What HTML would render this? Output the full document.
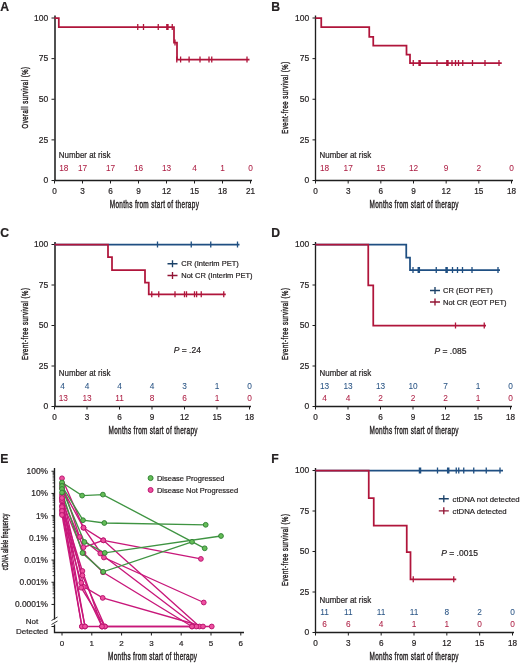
<!DOCTYPE html>
<html><head><meta charset="utf-8"><style>
html,body{margin:0;padding:0;background:#fff;}
svg{display:block;font-family:"Liberation Sans",sans-serif;filter:blur(0.3px);}
</style></head><body>
<svg width="520" height="663" viewBox="0 0 520 663">
<rect width="520" height="663" fill="#fff"/>
<text x="0.3" y="10.6" font-size="12.2" text-anchor="start" fill="#231f20" stroke="#231f20" stroke-width="0.2" font-weight="bold">A</text>
<path d="M55.0 15.5V180.5" fill="none" stroke="#484848" stroke-width="1.9"/>
<path d="M54.5 180.5H252" fill="none" stroke="#1e1e1e" stroke-width="1.35"/>
<line x1="51.5" y1="18.0" x2="54.5" y2="18.0" stroke="#1e1e1e" stroke-width="1"/>
<text x="48.2" y="20.8" font-size="8.5" text-anchor="end" fill="#231f20" stroke="#231f20" stroke-width="0.2" >100</text>
<line x1="51.5" y1="58.625" x2="54.5" y2="58.625" stroke="#1e1e1e" stroke-width="1"/>
<text x="48.2" y="61.425" font-size="8.5" text-anchor="end" fill="#231f20" stroke="#231f20" stroke-width="0.2" >75</text>
<line x1="51.5" y1="99.25" x2="54.5" y2="99.25" stroke="#1e1e1e" stroke-width="1"/>
<text x="48.2" y="102.05" font-size="8.5" text-anchor="end" fill="#231f20" stroke="#231f20" stroke-width="0.2" >50</text>
<line x1="51.5" y1="139.875" x2="54.5" y2="139.875" stroke="#1e1e1e" stroke-width="1"/>
<text x="48.2" y="142.675" font-size="8.5" text-anchor="end" fill="#231f20" stroke="#231f20" stroke-width="0.2" >25</text>
<line x1="51.5" y1="180.5" x2="54.5" y2="180.5" stroke="#1e1e1e" stroke-width="1"/>
<text x="48.2" y="183.3" font-size="8.5" text-anchor="end" fill="#231f20" stroke="#231f20" stroke-width="0.2" >0</text>
<line x1="54.5" y1="180.5" x2="54.5" y2="183.5" stroke="#1e1e1e" stroke-width="1"/>
<text x="54.5" y="193.6" font-size="8.2" text-anchor="middle" fill="#231f20" stroke="#231f20" stroke-width="0.2" >0</text>
<line x1="82.5" y1="180.5" x2="82.5" y2="183.5" stroke="#1e1e1e" stroke-width="1"/>
<text x="82.5" y="193.6" font-size="8.2" text-anchor="middle" fill="#231f20" stroke="#231f20" stroke-width="0.2" >3</text>
<line x1="110.5" y1="180.5" x2="110.5" y2="183.5" stroke="#1e1e1e" stroke-width="1"/>
<text x="110.5" y="193.6" font-size="8.2" text-anchor="middle" fill="#231f20" stroke="#231f20" stroke-width="0.2" >6</text>
<line x1="138.5" y1="180.5" x2="138.5" y2="183.5" stroke="#1e1e1e" stroke-width="1"/>
<text x="138.5" y="193.6" font-size="8.2" text-anchor="middle" fill="#231f20" stroke="#231f20" stroke-width="0.2" >9</text>
<line x1="166.5" y1="180.5" x2="166.5" y2="183.5" stroke="#1e1e1e" stroke-width="1"/>
<text x="166.5" y="193.6" font-size="8.2" text-anchor="middle" fill="#231f20" stroke="#231f20" stroke-width="0.2" >12</text>
<line x1="194.5" y1="180.5" x2="194.5" y2="183.5" stroke="#1e1e1e" stroke-width="1"/>
<text x="194.5" y="193.6" font-size="8.2" text-anchor="middle" fill="#231f20" stroke="#231f20" stroke-width="0.2" >15</text>
<line x1="222.5" y1="180.5" x2="222.5" y2="183.5" stroke="#1e1e1e" stroke-width="1"/>
<text x="222.5" y="193.6" font-size="8.2" text-anchor="middle" fill="#231f20" stroke="#231f20" stroke-width="0.2" >18</text>
<line x1="250.5" y1="180.5" x2="250.5" y2="183.5" stroke="#1e1e1e" stroke-width="1"/>
<text x="250.5" y="193.6" font-size="8.2" text-anchor="middle" fill="#231f20" stroke="#231f20" stroke-width="0.2" >21</text>
<text transform="translate(154.3,207.8) scale(0.63,1)" x="0.259" y="0" font-size="10.2" text-anchor="middle" fill="#231f20" letter-spacing="0.518" stroke="#231f20" stroke-width="0.42">Months from start of therapy</text>
<text transform="translate(27.6,97.75) rotate(-90) scale(0.63,1)" x="0.402" y="0" font-size="9.5" text-anchor="middle" fill="#231f20" letter-spacing="0.803" stroke="#231f20" stroke-width="0.42">Overall survival (%)</text>
<path d="M54.5 18H58.8V27.1H174V42.5H177V59.5H249.5" fill="none" stroke="#b0153b" stroke-width="1.75" stroke-linejoin="miter"/>
<path d="M137.75 24.1V30.1M143.5 24.1V30.1M158.25 24.1V30.1M166.8 24.1V30.1M168 24.1V30.1M172.25 24.1V30.1M175 39.5V45.5M176.8 56.5V62.5M180.6 56.5V62.5M189.1 56.5V62.5M200 56.5V62.5M209 56.5V62.5M211.75 56.5V62.5M247 56.5V62.5" fill="none" stroke="#b0153b" stroke-width="1.3"/>
<text x="58.75" y="158" font-size="8.4" text-anchor="start" fill="#231f20" stroke="#231f20" stroke-width="0.2" textLength="51.6" lengthAdjust="spacingAndGlyphs">Number at risk</text>
<text x="63.75" y="170.5" font-size="8.3" text-anchor="middle" fill="#ad1f44" stroke="#ad1f44" stroke-width="0.05" >18</text>
<text x="82.5" y="170.5" font-size="8.3" text-anchor="middle" fill="#ad1f44" stroke="#ad1f44" stroke-width="0.05" >17</text>
<text x="110.5" y="170.5" font-size="8.3" text-anchor="middle" fill="#ad1f44" stroke="#ad1f44" stroke-width="0.05" >17</text>
<text x="138.5" y="170.5" font-size="8.3" text-anchor="middle" fill="#ad1f44" stroke="#ad1f44" stroke-width="0.05" >16</text>
<text x="166.5" y="170.5" font-size="8.3" text-anchor="middle" fill="#ad1f44" stroke="#ad1f44" stroke-width="0.05" >13</text>
<text x="194.5" y="170.5" font-size="8.3" text-anchor="middle" fill="#ad1f44" stroke="#ad1f44" stroke-width="0.05" >4</text>
<text x="222.5" y="170.5" font-size="8.3" text-anchor="middle" fill="#ad1f44" stroke="#ad1f44" stroke-width="0.05" >1</text>
<text x="250.5" y="170.5" font-size="8.3" text-anchor="middle" fill="#ad1f44" stroke="#ad1f44" stroke-width="0.05" >0</text>
<text x="271.3" y="10.6" font-size="12.2" text-anchor="start" fill="#231f20" stroke="#231f20" stroke-width="0.2" font-weight="bold">B</text>
<path d="M315.5 15.5V180.5H513" fill="none" stroke="#1e1e1e" stroke-width="1.35"/>
<line x1="312.5" y1="18.0" x2="315.5" y2="18.0" stroke="#1e1e1e" stroke-width="1"/>
<text x="309.2" y="20.8" font-size="8.5" text-anchor="end" fill="#231f20" stroke="#231f20" stroke-width="0.2" >100</text>
<line x1="312.5" y1="58.625" x2="315.5" y2="58.625" stroke="#1e1e1e" stroke-width="1"/>
<text x="309.2" y="61.425" font-size="8.5" text-anchor="end" fill="#231f20" stroke="#231f20" stroke-width="0.2" >75</text>
<line x1="312.5" y1="99.25" x2="315.5" y2="99.25" stroke="#1e1e1e" stroke-width="1"/>
<text x="309.2" y="102.05" font-size="8.5" text-anchor="end" fill="#231f20" stroke="#231f20" stroke-width="0.2" >50</text>
<line x1="312.5" y1="139.875" x2="315.5" y2="139.875" stroke="#1e1e1e" stroke-width="1"/>
<text x="309.2" y="142.675" font-size="8.5" text-anchor="end" fill="#231f20" stroke="#231f20" stroke-width="0.2" >25</text>
<line x1="312.5" y1="180.5" x2="315.5" y2="180.5" stroke="#1e1e1e" stroke-width="1"/>
<text x="309.2" y="183.3" font-size="8.5" text-anchor="end" fill="#231f20" stroke="#231f20" stroke-width="0.2" >0</text>
<line x1="315.5" y1="180.5" x2="315.5" y2="183.5" stroke="#1e1e1e" stroke-width="1"/>
<text x="315.5" y="193.6" font-size="8.2" text-anchor="middle" fill="#231f20" stroke="#231f20" stroke-width="0.2" >0</text>
<line x1="348.1666666666667" y1="180.5" x2="348.1666666666667" y2="183.5" stroke="#1e1e1e" stroke-width="1"/>
<text x="348.1666666666667" y="193.6" font-size="8.2" text-anchor="middle" fill="#231f20" stroke="#231f20" stroke-width="0.2" >3</text>
<line x1="380.8333333333333" y1="180.5" x2="380.8333333333333" y2="183.5" stroke="#1e1e1e" stroke-width="1"/>
<text x="380.8333333333333" y="193.6" font-size="8.2" text-anchor="middle" fill="#231f20" stroke="#231f20" stroke-width="0.2" >6</text>
<line x1="413.5" y1="180.5" x2="413.5" y2="183.5" stroke="#1e1e1e" stroke-width="1"/>
<text x="413.5" y="193.6" font-size="8.2" text-anchor="middle" fill="#231f20" stroke="#231f20" stroke-width="0.2" >9</text>
<line x1="446.16666666666663" y1="180.5" x2="446.16666666666663" y2="183.5" stroke="#1e1e1e" stroke-width="1"/>
<text x="446.16666666666663" y="193.6" font-size="8.2" text-anchor="middle" fill="#231f20" stroke="#231f20" stroke-width="0.2" >12</text>
<line x1="478.8333333333333" y1="180.5" x2="478.8333333333333" y2="183.5" stroke="#1e1e1e" stroke-width="1"/>
<text x="478.8333333333333" y="193.6" font-size="8.2" text-anchor="middle" fill="#231f20" stroke="#231f20" stroke-width="0.2" >15</text>
<line x1="511.5" y1="180.5" x2="511.5" y2="183.5" stroke="#1e1e1e" stroke-width="1"/>
<text x="511.5" y="193.6" font-size="8.2" text-anchor="middle" fill="#231f20" stroke="#231f20" stroke-width="0.2" >18</text>
<text transform="translate(414,207.8) scale(0.63,1)" x="0.259" y="0" font-size="10.2" text-anchor="middle" fill="#231f20" letter-spacing="0.518" stroke="#231f20" stroke-width="0.42">Months from start of therapy</text>
<text transform="translate(288.4,97.75) rotate(-90) scale(0.63,1)" x="0.413" y="0" font-size="9.5" text-anchor="middle" fill="#231f20" letter-spacing="0.826" stroke="#231f20" stroke-width="0.42">Event-free survival (%)</text>
<path d="M315.5 18H321.25V27H369.25V36.75H373.25V45.5H406.5V54.5H410V63H501.75" fill="none" stroke="#b0153b" stroke-width="1.75" stroke-linejoin="miter"/>
<path d="M413.25 60V66M419 60V66M420.2 60V66M437 60V66M446.8 60V66M448 60V66M452 60V66M455.5 60V66M458.5 60V66M462.75 60V66M472.5 60V66M485 60V66M499 60V66" fill="none" stroke="#b0153b" stroke-width="1.3"/>
<text x="319.5" y="158" font-size="8.4" text-anchor="start" fill="#231f20" stroke="#231f20" stroke-width="0.2" textLength="51.6" lengthAdjust="spacingAndGlyphs">Number at risk</text>
<text x="324.5" y="170.5" font-size="8.3" text-anchor="middle" fill="#ad1f44" stroke="#ad1f44" stroke-width="0.05" >18</text>
<text x="348.1666666666667" y="170.5" font-size="8.3" text-anchor="middle" fill="#ad1f44" stroke="#ad1f44" stroke-width="0.05" >17</text>
<text x="380.8333333333333" y="170.5" font-size="8.3" text-anchor="middle" fill="#ad1f44" stroke="#ad1f44" stroke-width="0.05" >15</text>
<text x="413.5" y="170.5" font-size="8.3" text-anchor="middle" fill="#ad1f44" stroke="#ad1f44" stroke-width="0.05" >12</text>
<text x="446.16666666666663" y="170.5" font-size="8.3" text-anchor="middle" fill="#ad1f44" stroke="#ad1f44" stroke-width="0.05" >9</text>
<text x="478.8333333333333" y="170.5" font-size="8.3" text-anchor="middle" fill="#ad1f44" stroke="#ad1f44" stroke-width="0.05" >2</text>
<text x="511.5" y="170.5" font-size="8.3" text-anchor="middle" fill="#ad1f44" stroke="#ad1f44" stroke-width="0.05" >0</text>
<text x="0.3" y="236.9" font-size="12.2" text-anchor="start" fill="#231f20" stroke="#231f20" stroke-width="0.2" font-weight="bold">C</text>
<path d="M55.0 242.0V406.5" fill="none" stroke="#484848" stroke-width="1.9"/>
<path d="M54.5 406.5H251" fill="none" stroke="#1e1e1e" stroke-width="1.35"/>
<line x1="51.5" y1="244.5" x2="54.5" y2="244.5" stroke="#1e1e1e" stroke-width="1"/>
<text x="48.2" y="247.3" font-size="8.5" text-anchor="end" fill="#231f20" stroke="#231f20" stroke-width="0.2" >100</text>
<line x1="51.5" y1="285.0" x2="54.5" y2="285.0" stroke="#1e1e1e" stroke-width="1"/>
<text x="48.2" y="287.8" font-size="8.5" text-anchor="end" fill="#231f20" stroke="#231f20" stroke-width="0.2" >75</text>
<line x1="51.5" y1="325.5" x2="54.5" y2="325.5" stroke="#1e1e1e" stroke-width="1"/>
<text x="48.2" y="328.3" font-size="8.5" text-anchor="end" fill="#231f20" stroke="#231f20" stroke-width="0.2" >50</text>
<line x1="51.5" y1="366.0" x2="54.5" y2="366.0" stroke="#1e1e1e" stroke-width="1"/>
<text x="48.2" y="368.8" font-size="8.5" text-anchor="end" fill="#231f20" stroke="#231f20" stroke-width="0.2" >25</text>
<line x1="51.5" y1="406.5" x2="54.5" y2="406.5" stroke="#1e1e1e" stroke-width="1"/>
<text x="48.2" y="409.3" font-size="8.5" text-anchor="end" fill="#231f20" stroke="#231f20" stroke-width="0.2" >0</text>
<line x1="54.5" y1="406.5" x2="54.5" y2="409.5" stroke="#1e1e1e" stroke-width="1"/>
<text x="54.5" y="420" font-size="8.2" text-anchor="middle" fill="#231f20" stroke="#231f20" stroke-width="0.2" >0</text>
<line x1="87.0" y1="406.5" x2="87.0" y2="409.5" stroke="#1e1e1e" stroke-width="1"/>
<text x="87.0" y="420" font-size="8.2" text-anchor="middle" fill="#231f20" stroke="#231f20" stroke-width="0.2" >3</text>
<line x1="119.5" y1="406.5" x2="119.5" y2="409.5" stroke="#1e1e1e" stroke-width="1"/>
<text x="119.5" y="420" font-size="8.2" text-anchor="middle" fill="#231f20" stroke="#231f20" stroke-width="0.2" >6</text>
<line x1="152.0" y1="406.5" x2="152.0" y2="409.5" stroke="#1e1e1e" stroke-width="1"/>
<text x="152.0" y="420" font-size="8.2" text-anchor="middle" fill="#231f20" stroke="#231f20" stroke-width="0.2" >9</text>
<line x1="184.5" y1="406.5" x2="184.5" y2="409.5" stroke="#1e1e1e" stroke-width="1"/>
<text x="184.5" y="420" font-size="8.2" text-anchor="middle" fill="#231f20" stroke="#231f20" stroke-width="0.2" >12</text>
<line x1="217.0" y1="406.5" x2="217.0" y2="409.5" stroke="#1e1e1e" stroke-width="1"/>
<text x="217.0" y="420" font-size="8.2" text-anchor="middle" fill="#231f20" stroke="#231f20" stroke-width="0.2" >15</text>
<line x1="249.5" y1="406.5" x2="249.5" y2="409.5" stroke="#1e1e1e" stroke-width="1"/>
<text x="249.5" y="420" font-size="8.2" text-anchor="middle" fill="#231f20" stroke="#231f20" stroke-width="0.2" >18</text>
<text transform="translate(153,434.2) scale(0.63,1)" x="0.259" y="0" font-size="10.2" text-anchor="middle" fill="#231f20" letter-spacing="0.518" stroke="#231f20" stroke-width="0.42">Months from start of therapy</text>
<text transform="translate(27.6,324.0) rotate(-90) scale(0.63,1)" x="0.413" y="0" font-size="9.5" text-anchor="middle" fill="#231f20" letter-spacing="0.826" stroke="#231f20" stroke-width="0.42">Event-free survival (%)</text>
<path d="M54.5 244.5H239.5" fill="none" stroke="#1f4f82" stroke-width="1.75" stroke-linejoin="miter"/>
<path d="M157.5 241.5V247.5M191.25 241.5V247.5M210.75 241.5V247.5M237.5 241.5V247.5" fill="none" stroke="#1f4f82" stroke-width="1.3"/>
<path d="M54.5 244.5H108V257H112V270H145V282.5H148.75V294.25H225.75" fill="none" stroke="#b0153b" stroke-width="1.75" stroke-linejoin="miter"/>
<path d="M151.75 291.25V297.25M158.75 291.25V297.25M175 291.25V297.25M184.5 291.25V297.25M186.5 291.25V297.25M194.5 291.25V297.25M196.6 291.25V297.25M201.25 291.25V297.25M223.75 291.25V297.25" fill="none" stroke="#b0153b" stroke-width="1.3"/>
<path d="M167.5 263.75H177.5M172.5 260.25V267.25" stroke="#1b4168" stroke-width="1.35"/>
<text x="181.25" y="266.45" font-size="7.5" text-anchor="start" fill="#231f20" stroke="#231f20" stroke-width="0.2" >CR (Interim PET)</text>
<path d="M167.5 275.5H177.5M172.5 272.0V279.0" stroke="#921434" stroke-width="1.35"/>
<text x="181.25" y="278.2" font-size="7.5" text-anchor="start" fill="#231f20" stroke="#231f20" stroke-width="0.2" >Not CR (Interim PET)</text>
<text x="173.75" y="353" font-size="8.5" fill="#231f20" stroke="#231f20" stroke-width="0.2"><tspan font-style="italic">P</tspan> = .24</text>
<text x="58.75" y="376.25" font-size="8.4" text-anchor="start" fill="#231f20" stroke="#231f20" stroke-width="0.2" textLength="51.6" lengthAdjust="spacingAndGlyphs">Number at risk</text>
<text x="62.5" y="388.75" font-size="8.3" text-anchor="middle" fill="#2a5585" stroke="#2a5585" stroke-width="0.05" >4</text>
<text x="87.0" y="388.75" font-size="8.3" text-anchor="middle" fill="#2a5585" stroke="#2a5585" stroke-width="0.05" >4</text>
<text x="119.5" y="388.75" font-size="8.3" text-anchor="middle" fill="#2a5585" stroke="#2a5585" stroke-width="0.05" >4</text>
<text x="152.0" y="388.75" font-size="8.3" text-anchor="middle" fill="#2a5585" stroke="#2a5585" stroke-width="0.05" >4</text>
<text x="184.5" y="388.75" font-size="8.3" text-anchor="middle" fill="#2a5585" stroke="#2a5585" stroke-width="0.05" >3</text>
<text x="217.0" y="388.75" font-size="8.3" text-anchor="middle" fill="#2a5585" stroke="#2a5585" stroke-width="0.05" >1</text>
<text x="249.5" y="388.75" font-size="8.3" text-anchor="middle" fill="#2a5585" stroke="#2a5585" stroke-width="0.05" >0</text>
<text x="63.25" y="400.75" font-size="8.3" text-anchor="middle" fill="#ad1f44" stroke="#ad1f44" stroke-width="0.05" >13</text>
<text x="87.0" y="400.75" font-size="8.3" text-anchor="middle" fill="#ad1f44" stroke="#ad1f44" stroke-width="0.05" >13</text>
<text x="119.5" y="400.75" font-size="8.3" text-anchor="middle" fill="#ad1f44" stroke="#ad1f44" stroke-width="0.05" >11</text>
<text x="152.0" y="400.75" font-size="8.3" text-anchor="middle" fill="#ad1f44" stroke="#ad1f44" stroke-width="0.05" >8</text>
<text x="184.5" y="400.75" font-size="8.3" text-anchor="middle" fill="#ad1f44" stroke="#ad1f44" stroke-width="0.05" >6</text>
<text x="217.0" y="400.75" font-size="8.3" text-anchor="middle" fill="#ad1f44" stroke="#ad1f44" stroke-width="0.05" >1</text>
<text x="249.5" y="400.75" font-size="8.3" text-anchor="middle" fill="#ad1f44" stroke="#ad1f44" stroke-width="0.05" >0</text>
<text x="271.3" y="236.9" font-size="12.2" text-anchor="start" fill="#231f20" stroke="#231f20" stroke-width="0.2" font-weight="bold">D</text>
<path d="M315.5 242.0V406.5H512" fill="none" stroke="#1e1e1e" stroke-width="1.35"/>
<line x1="312.5" y1="244.5" x2="315.5" y2="244.5" stroke="#1e1e1e" stroke-width="1"/>
<text x="309.2" y="247.3" font-size="8.5" text-anchor="end" fill="#231f20" stroke="#231f20" stroke-width="0.2" >100</text>
<line x1="312.5" y1="285.0" x2="315.5" y2="285.0" stroke="#1e1e1e" stroke-width="1"/>
<text x="309.2" y="287.8" font-size="8.5" text-anchor="end" fill="#231f20" stroke="#231f20" stroke-width="0.2" >75</text>
<line x1="312.5" y1="325.5" x2="315.5" y2="325.5" stroke="#1e1e1e" stroke-width="1"/>
<text x="309.2" y="328.3" font-size="8.5" text-anchor="end" fill="#231f20" stroke="#231f20" stroke-width="0.2" >50</text>
<line x1="312.5" y1="366.0" x2="315.5" y2="366.0" stroke="#1e1e1e" stroke-width="1"/>
<text x="309.2" y="368.8" font-size="8.5" text-anchor="end" fill="#231f20" stroke="#231f20" stroke-width="0.2" >25</text>
<line x1="312.5" y1="406.5" x2="315.5" y2="406.5" stroke="#1e1e1e" stroke-width="1"/>
<text x="309.2" y="409.3" font-size="8.5" text-anchor="end" fill="#231f20" stroke="#231f20" stroke-width="0.2" >0</text>
<line x1="315.5" y1="406.5" x2="315.5" y2="409.5" stroke="#1e1e1e" stroke-width="1"/>
<text x="315.5" y="420" font-size="8.2" text-anchor="middle" fill="#231f20" stroke="#231f20" stroke-width="0.2" >0</text>
<line x1="348.0" y1="406.5" x2="348.0" y2="409.5" stroke="#1e1e1e" stroke-width="1"/>
<text x="348.0" y="420" font-size="8.2" text-anchor="middle" fill="#231f20" stroke="#231f20" stroke-width="0.2" >3</text>
<line x1="380.5" y1="406.5" x2="380.5" y2="409.5" stroke="#1e1e1e" stroke-width="1"/>
<text x="380.5" y="420" font-size="8.2" text-anchor="middle" fill="#231f20" stroke="#231f20" stroke-width="0.2" >6</text>
<line x1="413.0" y1="406.5" x2="413.0" y2="409.5" stroke="#1e1e1e" stroke-width="1"/>
<text x="413.0" y="420" font-size="8.2" text-anchor="middle" fill="#231f20" stroke="#231f20" stroke-width="0.2" >9</text>
<line x1="445.5" y1="406.5" x2="445.5" y2="409.5" stroke="#1e1e1e" stroke-width="1"/>
<text x="445.5" y="420" font-size="8.2" text-anchor="middle" fill="#231f20" stroke="#231f20" stroke-width="0.2" >12</text>
<line x1="478.0" y1="406.5" x2="478.0" y2="409.5" stroke="#1e1e1e" stroke-width="1"/>
<text x="478.0" y="420" font-size="8.2" text-anchor="middle" fill="#231f20" stroke="#231f20" stroke-width="0.2" >15</text>
<line x1="510.5" y1="406.5" x2="510.5" y2="409.5" stroke="#1e1e1e" stroke-width="1"/>
<text x="510.5" y="420" font-size="8.2" text-anchor="middle" fill="#231f20" stroke="#231f20" stroke-width="0.2" >18</text>
<text transform="translate(414,434.2) scale(0.63,1)" x="0.259" y="0" font-size="10.2" text-anchor="middle" fill="#231f20" letter-spacing="0.518" stroke="#231f20" stroke-width="0.42">Months from start of therapy</text>
<text transform="translate(288.4,324.0) rotate(-90) scale(0.63,1)" x="0.413" y="0" font-size="9.5" text-anchor="middle" fill="#231f20" letter-spacing="0.826" stroke="#231f20" stroke-width="0.42">Event-free survival (%)</text>
<path d="M315.5 244.5H406.25V257.5H410V270H500" fill="none" stroke="#1f4f82" stroke-width="1.75" stroke-linejoin="miter"/>
<path d="M413 267V273M418.2 267V273M419.4 267V273M436.25 267V273M446 267V273M447.2 267V273M452.5 267V273M457.5 267V273M462.5 267V273M472 267V273M498 267V273" fill="none" stroke="#1f4f82" stroke-width="1.3"/>
<path d="M315.5 244.5H368.25V285.25H373.25V325.5H486" fill="none" stroke="#b0153b" stroke-width="1.75" stroke-linejoin="miter"/>
<path d="M455.5 322.5V328.5M484.25 322.5V328.5" fill="none" stroke="#b0153b" stroke-width="1.3"/>
<path d="M430 290.5H440M435 287.0V294.0" stroke="#1b4168" stroke-width="1.35"/>
<text x="443" y="293.2" font-size="7.5" text-anchor="start" fill="#231f20" stroke="#231f20" stroke-width="0.2" >CR (EOT PET)</text>
<path d="M430 302H440M435 298.5V305.5" stroke="#921434" stroke-width="1.35"/>
<text x="443" y="304.7" font-size="7.5" text-anchor="start" fill="#231f20" stroke="#231f20" stroke-width="0.2" >Not CR (EOT PET)</text>
<text x="434.5" y="353.75" font-size="8.5" fill="#231f20" stroke="#231f20" stroke-width="0.2"><tspan font-style="italic">P</tspan> = .085</text>
<text x="319.5" y="376.25" font-size="8.4" text-anchor="start" fill="#231f20" stroke="#231f20" stroke-width="0.2" textLength="51.6" lengthAdjust="spacingAndGlyphs">Number at risk</text>
<text x="324.5" y="388.75" font-size="8.3" text-anchor="middle" fill="#2a5585" stroke="#2a5585" stroke-width="0.05" >13</text>
<text x="348.0" y="388.75" font-size="8.3" text-anchor="middle" fill="#2a5585" stroke="#2a5585" stroke-width="0.05" >13</text>
<text x="380.5" y="388.75" font-size="8.3" text-anchor="middle" fill="#2a5585" stroke="#2a5585" stroke-width="0.05" >13</text>
<text x="413.0" y="388.75" font-size="8.3" text-anchor="middle" fill="#2a5585" stroke="#2a5585" stroke-width="0.05" >10</text>
<text x="445.5" y="388.75" font-size="8.3" text-anchor="middle" fill="#2a5585" stroke="#2a5585" stroke-width="0.05" >7</text>
<text x="478.0" y="388.75" font-size="8.3" text-anchor="middle" fill="#2a5585" stroke="#2a5585" stroke-width="0.05" >1</text>
<text x="510.5" y="388.75" font-size="8.3" text-anchor="middle" fill="#2a5585" stroke="#2a5585" stroke-width="0.05" >0</text>
<text x="324.5" y="400.75" font-size="8.3" text-anchor="middle" fill="#ad1f44" stroke="#ad1f44" stroke-width="0.05" >4</text>
<text x="348.0" y="400.75" font-size="8.3" text-anchor="middle" fill="#ad1f44" stroke="#ad1f44" stroke-width="0.05" >4</text>
<text x="380.5" y="400.75" font-size="8.3" text-anchor="middle" fill="#ad1f44" stroke="#ad1f44" stroke-width="0.05" >2</text>
<text x="413.0" y="400.75" font-size="8.3" text-anchor="middle" fill="#ad1f44" stroke="#ad1f44" stroke-width="0.05" >2</text>
<text x="445.5" y="400.75" font-size="8.3" text-anchor="middle" fill="#ad1f44" stroke="#ad1f44" stroke-width="0.05" >2</text>
<text x="478.0" y="400.75" font-size="8.3" text-anchor="middle" fill="#ad1f44" stroke="#ad1f44" stroke-width="0.05" >1</text>
<text x="510.5" y="400.75" font-size="8.3" text-anchor="middle" fill="#ad1f44" stroke="#ad1f44" stroke-width="0.05" >0</text>
<text x="0.3" y="463.1" font-size="12.2" text-anchor="start" fill="#231f20" stroke="#231f20" stroke-width="0.2" font-weight="bold">E</text>
<path d="M54.5 468V619.5M54.5 624.5V632.5H244" fill="none" stroke="#1e1e1e" stroke-width="1.35"/>
<path d="M51.5 620.5L57.5 617M51.5 624.5L57.5 621" fill="none" stroke="#1e1e1e" stroke-width="0.9"/>
<line x1="51.5" y1="471.25" x2="54.5" y2="471.25" stroke="#1e1e1e" stroke-width="1"/>
<text x="48" y="474.25" font-size="8.4" text-anchor="end" fill="#231f20" stroke="#231f20" stroke-width="0.2" >100%</text>
<line x1="52.6" y1="486.77" x2="54.5" y2="486.77" stroke="#1e1e1e" stroke-width="0.85"/>
<line x1="52.6" y1="482.86" x2="54.5" y2="482.86" stroke="#1e1e1e" stroke-width="0.85"/>
<line x1="52.6" y1="480.08" x2="54.5" y2="480.08" stroke="#1e1e1e" stroke-width="0.85"/>
<line x1="52.6" y1="477.93" x2="54.5" y2="477.93" stroke="#1e1e1e" stroke-width="0.85"/>
<line x1="52.6" y1="476.18" x2="54.5" y2="476.18" stroke="#1e1e1e" stroke-width="0.85"/>
<line x1="52.6" y1="474.69" x2="54.5" y2="474.69" stroke="#1e1e1e" stroke-width="0.85"/>
<line x1="52.6" y1="473.40" x2="54.5" y2="473.40" stroke="#1e1e1e" stroke-width="0.85"/>
<line x1="52.6" y1="472.27" x2="54.5" y2="472.27" stroke="#1e1e1e" stroke-width="0.85"/>
<line x1="51.5" y1="493.45" x2="54.5" y2="493.45" stroke="#1e1e1e" stroke-width="1"/>
<text x="48" y="496.45" font-size="8.4" text-anchor="end" fill="#231f20" stroke="#231f20" stroke-width="0.2" >10%</text>
<line x1="52.6" y1="508.97" x2="54.5" y2="508.97" stroke="#1e1e1e" stroke-width="0.85"/>
<line x1="52.6" y1="505.06" x2="54.5" y2="505.06" stroke="#1e1e1e" stroke-width="0.85"/>
<line x1="52.6" y1="502.28" x2="54.5" y2="502.28" stroke="#1e1e1e" stroke-width="0.85"/>
<line x1="52.6" y1="500.13" x2="54.5" y2="500.13" stroke="#1e1e1e" stroke-width="0.85"/>
<line x1="52.6" y1="498.38" x2="54.5" y2="498.38" stroke="#1e1e1e" stroke-width="0.85"/>
<line x1="52.6" y1="496.89" x2="54.5" y2="496.89" stroke="#1e1e1e" stroke-width="0.85"/>
<line x1="52.6" y1="495.60" x2="54.5" y2="495.60" stroke="#1e1e1e" stroke-width="0.85"/>
<line x1="52.6" y1="494.47" x2="54.5" y2="494.47" stroke="#1e1e1e" stroke-width="0.85"/>
<line x1="51.5" y1="515.65" x2="54.5" y2="515.65" stroke="#1e1e1e" stroke-width="1"/>
<text x="48" y="518.65" font-size="8.4" text-anchor="end" fill="#231f20" stroke="#231f20" stroke-width="0.2" >1%</text>
<line x1="52.6" y1="531.17" x2="54.5" y2="531.17" stroke="#1e1e1e" stroke-width="0.85"/>
<line x1="52.6" y1="527.26" x2="54.5" y2="527.26" stroke="#1e1e1e" stroke-width="0.85"/>
<line x1="52.6" y1="524.48" x2="54.5" y2="524.48" stroke="#1e1e1e" stroke-width="0.85"/>
<line x1="52.6" y1="522.33" x2="54.5" y2="522.33" stroke="#1e1e1e" stroke-width="0.85"/>
<line x1="52.6" y1="520.58" x2="54.5" y2="520.58" stroke="#1e1e1e" stroke-width="0.85"/>
<line x1="52.6" y1="519.09" x2="54.5" y2="519.09" stroke="#1e1e1e" stroke-width="0.85"/>
<line x1="52.6" y1="517.80" x2="54.5" y2="517.80" stroke="#1e1e1e" stroke-width="0.85"/>
<line x1="52.6" y1="516.67" x2="54.5" y2="516.67" stroke="#1e1e1e" stroke-width="0.85"/>
<line x1="51.5" y1="537.85" x2="54.5" y2="537.85" stroke="#1e1e1e" stroke-width="1"/>
<text x="48" y="540.85" font-size="8.4" text-anchor="end" fill="#231f20" stroke="#231f20" stroke-width="0.2" >0.1%</text>
<line x1="52.6" y1="553.37" x2="54.5" y2="553.37" stroke="#1e1e1e" stroke-width="0.85"/>
<line x1="52.6" y1="549.46" x2="54.5" y2="549.46" stroke="#1e1e1e" stroke-width="0.85"/>
<line x1="52.6" y1="546.68" x2="54.5" y2="546.68" stroke="#1e1e1e" stroke-width="0.85"/>
<line x1="52.6" y1="544.53" x2="54.5" y2="544.53" stroke="#1e1e1e" stroke-width="0.85"/>
<line x1="52.6" y1="542.78" x2="54.5" y2="542.78" stroke="#1e1e1e" stroke-width="0.85"/>
<line x1="52.6" y1="541.29" x2="54.5" y2="541.29" stroke="#1e1e1e" stroke-width="0.85"/>
<line x1="52.6" y1="540.00" x2="54.5" y2="540.00" stroke="#1e1e1e" stroke-width="0.85"/>
<line x1="52.6" y1="538.87" x2="54.5" y2="538.87" stroke="#1e1e1e" stroke-width="0.85"/>
<line x1="51.5" y1="560.05" x2="54.5" y2="560.05" stroke="#1e1e1e" stroke-width="1"/>
<text x="48" y="563.05" font-size="8.4" text-anchor="end" fill="#231f20" stroke="#231f20" stroke-width="0.2" >0.01%</text>
<line x1="52.6" y1="575.57" x2="54.5" y2="575.57" stroke="#1e1e1e" stroke-width="0.85"/>
<line x1="52.6" y1="571.66" x2="54.5" y2="571.66" stroke="#1e1e1e" stroke-width="0.85"/>
<line x1="52.6" y1="568.88" x2="54.5" y2="568.88" stroke="#1e1e1e" stroke-width="0.85"/>
<line x1="52.6" y1="566.73" x2="54.5" y2="566.73" stroke="#1e1e1e" stroke-width="0.85"/>
<line x1="52.6" y1="564.98" x2="54.5" y2="564.98" stroke="#1e1e1e" stroke-width="0.85"/>
<line x1="52.6" y1="563.49" x2="54.5" y2="563.49" stroke="#1e1e1e" stroke-width="0.85"/>
<line x1="52.6" y1="562.20" x2="54.5" y2="562.20" stroke="#1e1e1e" stroke-width="0.85"/>
<line x1="52.6" y1="561.07" x2="54.5" y2="561.07" stroke="#1e1e1e" stroke-width="0.85"/>
<line x1="51.5" y1="582.25" x2="54.5" y2="582.25" stroke="#1e1e1e" stroke-width="1"/>
<text x="48" y="585.25" font-size="8.4" text-anchor="end" fill="#231f20" stroke="#231f20" stroke-width="0.2" >0.001%</text>
<line x1="52.6" y1="597.77" x2="54.5" y2="597.77" stroke="#1e1e1e" stroke-width="0.85"/>
<line x1="52.6" y1="593.86" x2="54.5" y2="593.86" stroke="#1e1e1e" stroke-width="0.85"/>
<line x1="52.6" y1="591.08" x2="54.5" y2="591.08" stroke="#1e1e1e" stroke-width="0.85"/>
<line x1="52.6" y1="588.93" x2="54.5" y2="588.93" stroke="#1e1e1e" stroke-width="0.85"/>
<line x1="52.6" y1="587.18" x2="54.5" y2="587.18" stroke="#1e1e1e" stroke-width="0.85"/>
<line x1="52.6" y1="585.69" x2="54.5" y2="585.69" stroke="#1e1e1e" stroke-width="0.85"/>
<line x1="52.6" y1="584.40" x2="54.5" y2="584.40" stroke="#1e1e1e" stroke-width="0.85"/>
<line x1="52.6" y1="583.27" x2="54.5" y2="583.27" stroke="#1e1e1e" stroke-width="0.85"/>
<line x1="51.5" y1="604.45" x2="54.5" y2="604.45" stroke="#1e1e1e" stroke-width="1"/>
<text x="48" y="607.45" font-size="8.4" text-anchor="end" fill="#231f20" stroke="#231f20" stroke-width="0.2" >0.0001%</text>
<line x1="51.5" y1="626.5" x2="54.5" y2="626.5" stroke="#1e1e1e" stroke-width="1"/>
<text x="32" y="623.7" font-size="8" text-anchor="middle" fill="#231f20" stroke="#231f20" stroke-width="0.2" >Not</text>
<text x="32" y="634" font-size="8" text-anchor="middle" fill="#231f20" stroke="#231f20" stroke-width="0.2" >Detected</text>
<line x1="62.0" y1="632.5" x2="62.0" y2="635.5" stroke="#1e1e1e" stroke-width="1"/>
<text x="62.0" y="646.3" font-size="8" text-anchor="middle" fill="#231f20" stroke="#231f20" stroke-width="0.2" >0</text>
<line x1="91.8" y1="632.5" x2="91.8" y2="635.5" stroke="#1e1e1e" stroke-width="1"/>
<text x="91.8" y="646.3" font-size="8" text-anchor="middle" fill="#231f20" stroke="#231f20" stroke-width="0.2" >1</text>
<line x1="121.6" y1="632.5" x2="121.6" y2="635.5" stroke="#1e1e1e" stroke-width="1"/>
<text x="121.6" y="646.3" font-size="8" text-anchor="middle" fill="#231f20" stroke="#231f20" stroke-width="0.2" >2</text>
<line x1="151.4" y1="632.5" x2="151.4" y2="635.5" stroke="#1e1e1e" stroke-width="1"/>
<text x="151.4" y="646.3" font-size="8" text-anchor="middle" fill="#231f20" stroke="#231f20" stroke-width="0.2" >3</text>
<line x1="181.2" y1="632.5" x2="181.2" y2="635.5" stroke="#1e1e1e" stroke-width="1"/>
<text x="181.2" y="646.3" font-size="8" text-anchor="middle" fill="#231f20" stroke="#231f20" stroke-width="0.2" >4</text>
<line x1="211.0" y1="632.5" x2="211.0" y2="635.5" stroke="#1e1e1e" stroke-width="1"/>
<text x="211.0" y="646.3" font-size="8" text-anchor="middle" fill="#231f20" stroke="#231f20" stroke-width="0.2" >5</text>
<line x1="240.8" y1="632.5" x2="240.8" y2="635.5" stroke="#1e1e1e" stroke-width="1"/>
<text x="240.8" y="646.3" font-size="8" text-anchor="middle" fill="#231f20" stroke="#231f20" stroke-width="0.2" >6</text>
<text transform="translate(152.5,660) scale(0.63,1)" x="0.259" y="0" font-size="10.2" text-anchor="middle" fill="#231f20" letter-spacing="0.518" stroke="#231f20" stroke-width="0.42">Months from start of therapy</text>
<text transform="translate(8.1,542) rotate(-90) scale(0.53,1)" x="0.191" y="0" font-size="9.8" text-anchor="middle" fill="#231f20" letter-spacing="0.382" stroke="#231f20" stroke-width="0.42">ctDNA allele frequency</text>
<path d="M62 478.3 L83.5 527.7 L103.3 540.3 L200.9 558.9" fill="none" stroke="#c8177a" stroke-width="1.35"/>
<path d="M62 497.7 L83.5 547.3 L103.3 540.3 L199.5 626.5" fill="none" stroke="#c8177a" stroke-width="1.35"/>
<path d="M62 484 L79.6 536.9 L100.3 553.5 L196.25 626.5" fill="none" stroke="#c8177a" stroke-width="1.35"/>
<path d="M62 488 L83.5 527.7 L103.9 557.5 L203.75 602.5" fill="none" stroke="#c8177a" stroke-width="1.35"/>
<path d="M62 501.7 L83.5 553 L103 572.3 L192 626.5" fill="none" stroke="#c8177a" stroke-width="1.35"/>
<path d="M62 505.8 L82.4 571 L102 626.5" fill="none" stroke="#c8177a" stroke-width="1.35"/>
<path d="M62 509.8 L82.4 575.4 L105 626.5 L211.75 626.5" fill="none" stroke="#c8177a" stroke-width="1.35"/>
<path d="M62 513.3 L81.2 582.8 L102 626.5" fill="none" stroke="#c8177a" stroke-width="1.35"/>
<path d="M62 495 L83.9 586.9 L102.7 597.9 L203 626.5" fill="none" stroke="#c8177a" stroke-width="1.35"/>
<path d="M62 500 L81.2 587.7 L105 626.5" fill="none" stroke="#c8177a" stroke-width="1.35"/>
<path d="M62 507 L81.9 626.5 L102 626.5 L192 626.5" fill="none" stroke="#c8177a" stroke-width="1.35"/>
<path d="M62 511 L85 626.5" fill="none" stroke="#c8177a" stroke-width="1.35"/>
<path d="M62 515 L81.9 626.5" fill="none" stroke="#c8177a" stroke-width="1.35"/>
<path d="M62 498 L85 626.5" fill="none" stroke="#c8177a" stroke-width="1.35"/>
<path d="M62 482.5 L82.1 495.6 L102.9 494.6 L204.7 548.3" fill="none" stroke="#3f9442" stroke-width="1.35"/>
<path d="M62 486 L83 520.2 L104.3 523 L205.7 524.8" fill="none" stroke="#3f9442" stroke-width="1.35"/>
<path d="M62 489 L84.4 542 L104.8 552.9 L221 536" fill="none" stroke="#3f9442" stroke-width="1.35"/>
<path d="M62 492.5 L82.5 553 L103.2 571.8 L192 541.8" fill="none" stroke="#3f9442" stroke-width="1.35"/>
<circle cx="62" cy="478.3" r="2.4" fill="#ee4f9f" stroke="#b8136e" stroke-width="0.95"/>
<circle cx="83.5" cy="527.7" r="2.4" fill="#ee4f9f" stroke="#b8136e" stroke-width="0.95"/>
<circle cx="103.3" cy="540.3" r="2.4" fill="#ee4f9f" stroke="#b8136e" stroke-width="0.95"/>
<circle cx="200.9" cy="558.9" r="2.4" fill="#ee4f9f" stroke="#b8136e" stroke-width="0.95"/>
<circle cx="62" cy="497.7" r="2.4" fill="#ee4f9f" stroke="#b8136e" stroke-width="0.95"/>
<circle cx="83.5" cy="547.3" r="2.4" fill="#ee4f9f" stroke="#b8136e" stroke-width="0.95"/>
<circle cx="103.3" cy="540.3" r="2.4" fill="#ee4f9f" stroke="#b8136e" stroke-width="0.95"/>
<circle cx="199.5" cy="626.5" r="2.4" fill="#ee4f9f" stroke="#b8136e" stroke-width="0.95"/>
<circle cx="62" cy="484" r="2.4" fill="#ee4f9f" stroke="#b8136e" stroke-width="0.95"/>
<circle cx="79.6" cy="536.9" r="2.4" fill="#ee4f9f" stroke="#b8136e" stroke-width="0.95"/>
<circle cx="100.3" cy="553.5" r="2.4" fill="#ee4f9f" stroke="#b8136e" stroke-width="0.95"/>
<circle cx="196.25" cy="626.5" r="2.4" fill="#ee4f9f" stroke="#b8136e" stroke-width="0.95"/>
<circle cx="62" cy="488" r="2.4" fill="#ee4f9f" stroke="#b8136e" stroke-width="0.95"/>
<circle cx="83.5" cy="527.7" r="2.4" fill="#ee4f9f" stroke="#b8136e" stroke-width="0.95"/>
<circle cx="103.9" cy="557.5" r="2.4" fill="#ee4f9f" stroke="#b8136e" stroke-width="0.95"/>
<circle cx="203.75" cy="602.5" r="2.4" fill="#ee4f9f" stroke="#b8136e" stroke-width="0.95"/>
<circle cx="62" cy="501.7" r="2.4" fill="#ee4f9f" stroke="#b8136e" stroke-width="0.95"/>
<circle cx="83.5" cy="553" r="2.4" fill="#ee4f9f" stroke="#b8136e" stroke-width="0.95"/>
<circle cx="103" cy="572.3" r="2.4" fill="#ee4f9f" stroke="#b8136e" stroke-width="0.95"/>
<circle cx="192" cy="626.5" r="2.4" fill="#ee4f9f" stroke="#b8136e" stroke-width="0.95"/>
<circle cx="62" cy="505.8" r="2.4" fill="#ee4f9f" stroke="#b8136e" stroke-width="0.95"/>
<circle cx="82.4" cy="571" r="2.4" fill="#ee4f9f" stroke="#b8136e" stroke-width="0.95"/>
<circle cx="102" cy="626.5" r="2.4" fill="#ee4f9f" stroke="#b8136e" stroke-width="0.95"/>
<circle cx="62" cy="509.8" r="2.4" fill="#ee4f9f" stroke="#b8136e" stroke-width="0.95"/>
<circle cx="82.4" cy="575.4" r="2.4" fill="#ee4f9f" stroke="#b8136e" stroke-width="0.95"/>
<circle cx="105" cy="626.5" r="2.4" fill="#ee4f9f" stroke="#b8136e" stroke-width="0.95"/>
<circle cx="211.75" cy="626.5" r="2.4" fill="#ee4f9f" stroke="#b8136e" stroke-width="0.95"/>
<circle cx="62" cy="513.3" r="2.4" fill="#ee4f9f" stroke="#b8136e" stroke-width="0.95"/>
<circle cx="81.2" cy="582.8" r="2.4" fill="#ee4f9f" stroke="#b8136e" stroke-width="0.95"/>
<circle cx="102" cy="626.5" r="2.4" fill="#ee4f9f" stroke="#b8136e" stroke-width="0.95"/>
<circle cx="62" cy="495" r="2.4" fill="#ee4f9f" stroke="#b8136e" stroke-width="0.95"/>
<circle cx="83.9" cy="586.9" r="2.4" fill="#ee4f9f" stroke="#b8136e" stroke-width="0.95"/>
<circle cx="102.7" cy="597.9" r="2.4" fill="#ee4f9f" stroke="#b8136e" stroke-width="0.95"/>
<circle cx="203" cy="626.5" r="2.4" fill="#ee4f9f" stroke="#b8136e" stroke-width="0.95"/>
<circle cx="62" cy="500" r="2.4" fill="#ee4f9f" stroke="#b8136e" stroke-width="0.95"/>
<circle cx="81.2" cy="587.7" r="2.4" fill="#ee4f9f" stroke="#b8136e" stroke-width="0.95"/>
<circle cx="105" cy="626.5" r="2.4" fill="#ee4f9f" stroke="#b8136e" stroke-width="0.95"/>
<circle cx="62" cy="507" r="2.4" fill="#ee4f9f" stroke="#b8136e" stroke-width="0.95"/>
<circle cx="81.9" cy="626.5" r="2.4" fill="#ee4f9f" stroke="#b8136e" stroke-width="0.95"/>
<circle cx="102" cy="626.5" r="2.4" fill="#ee4f9f" stroke="#b8136e" stroke-width="0.95"/>
<circle cx="192" cy="626.5" r="2.4" fill="#ee4f9f" stroke="#b8136e" stroke-width="0.95"/>
<circle cx="62" cy="511" r="2.4" fill="#ee4f9f" stroke="#b8136e" stroke-width="0.95"/>
<circle cx="85" cy="626.5" r="2.4" fill="#ee4f9f" stroke="#b8136e" stroke-width="0.95"/>
<circle cx="62" cy="515" r="2.4" fill="#ee4f9f" stroke="#b8136e" stroke-width="0.95"/>
<circle cx="81.9" cy="626.5" r="2.4" fill="#ee4f9f" stroke="#b8136e" stroke-width="0.95"/>
<circle cx="62" cy="498" r="2.4" fill="#ee4f9f" stroke="#b8136e" stroke-width="0.95"/>
<circle cx="85" cy="626.5" r="2.4" fill="#ee4f9f" stroke="#b8136e" stroke-width="0.95"/>
<circle cx="62" cy="482.5" r="2.4" fill="#64bd57" stroke="#2f7f33" stroke-width="0.95"/>
<circle cx="82.1" cy="495.6" r="2.4" fill="#64bd57" stroke="#2f7f33" stroke-width="0.95"/>
<circle cx="102.9" cy="494.6" r="2.4" fill="#64bd57" stroke="#2f7f33" stroke-width="0.95"/>
<circle cx="204.7" cy="548.3" r="2.4" fill="#64bd57" stroke="#2f7f33" stroke-width="0.95"/>
<circle cx="62" cy="486" r="2.4" fill="#64bd57" stroke="#2f7f33" stroke-width="0.95"/>
<circle cx="83" cy="520.2" r="2.4" fill="#64bd57" stroke="#2f7f33" stroke-width="0.95"/>
<circle cx="104.3" cy="523" r="2.4" fill="#64bd57" stroke="#2f7f33" stroke-width="0.95"/>
<circle cx="205.7" cy="524.8" r="2.4" fill="#64bd57" stroke="#2f7f33" stroke-width="0.95"/>
<circle cx="62" cy="489" r="2.4" fill="#64bd57" stroke="#2f7f33" stroke-width="0.95"/>
<circle cx="84.4" cy="542" r="2.4" fill="#64bd57" stroke="#2f7f33" stroke-width="0.95"/>
<circle cx="104.8" cy="552.9" r="2.4" fill="#64bd57" stroke="#2f7f33" stroke-width="0.95"/>
<circle cx="221" cy="536" r="2.4" fill="#64bd57" stroke="#2f7f33" stroke-width="0.95"/>
<circle cx="62" cy="492.5" r="2.4" fill="#64bd57" stroke="#2f7f33" stroke-width="0.95"/>
<circle cx="82.5" cy="553" r="2.4" fill="#64bd57" stroke="#2f7f33" stroke-width="0.95"/>
<circle cx="103.2" cy="571.8" r="2.4" fill="#64bd57" stroke="#2f7f33" stroke-width="0.95"/>
<circle cx="192" cy="541.8" r="2.4" fill="#64bd57" stroke="#2f7f33" stroke-width="0.95"/>
<circle cx="150.6" cy="478.1" r="2.5" fill="#64bd57" stroke="#2f7f33" stroke-width="0.95"/>
<text x="156.9" y="480.8" font-size="7.5" text-anchor="start" fill="#231f20" stroke="#231f20" stroke-width="0.2" >Disease Progressed</text>
<circle cx="150.6" cy="490" r="2.5" fill="#ee4f9f" stroke="#b8136e" stroke-width="0.95"/>
<text x="156.9" y="492.6" font-size="7.5" text-anchor="start" fill="#231f20" stroke="#231f20" stroke-width="0.2" >Disease Not Progressed</text>
<text x="271.3" y="463.1" font-size="12.2" text-anchor="start" fill="#231f20" stroke="#231f20" stroke-width="0.2" font-weight="bold">F</text>
<path d="M315.5 468.0V632.5H514" fill="none" stroke="#1e1e1e" stroke-width="1.35"/>
<line x1="312.5" y1="470.5" x2="315.5" y2="470.5" stroke="#1e1e1e" stroke-width="1"/>
<text x="309.2" y="473.3" font-size="8.5" text-anchor="end" fill="#231f20" stroke="#231f20" stroke-width="0.2" >100</text>
<line x1="312.5" y1="511.0" x2="315.5" y2="511.0" stroke="#1e1e1e" stroke-width="1"/>
<text x="309.2" y="513.8" font-size="8.5" text-anchor="end" fill="#231f20" stroke="#231f20" stroke-width="0.2" >75</text>
<line x1="312.5" y1="551.5" x2="315.5" y2="551.5" stroke="#1e1e1e" stroke-width="1"/>
<text x="309.2" y="554.3" font-size="8.5" text-anchor="end" fill="#231f20" stroke="#231f20" stroke-width="0.2" >50</text>
<line x1="312.5" y1="592.0" x2="315.5" y2="592.0" stroke="#1e1e1e" stroke-width="1"/>
<text x="309.2" y="594.8" font-size="8.5" text-anchor="end" fill="#231f20" stroke="#231f20" stroke-width="0.2" >25</text>
<line x1="312.5" y1="632.5" x2="315.5" y2="632.5" stroke="#1e1e1e" stroke-width="1"/>
<text x="309.2" y="635.3" font-size="8.5" text-anchor="end" fill="#231f20" stroke="#231f20" stroke-width="0.2" >0</text>
<line x1="315.5" y1="632.5" x2="315.5" y2="635.5" stroke="#1e1e1e" stroke-width="1"/>
<text x="315.5" y="646" font-size="8.2" text-anchor="middle" fill="#231f20" stroke="#231f20" stroke-width="0.2" >0</text>
<line x1="348.3333333333333" y1="632.5" x2="348.3333333333333" y2="635.5" stroke="#1e1e1e" stroke-width="1"/>
<text x="348.3333333333333" y="646" font-size="8.2" text-anchor="middle" fill="#231f20" stroke="#231f20" stroke-width="0.2" >3</text>
<line x1="381.1666666666667" y1="632.5" x2="381.1666666666667" y2="635.5" stroke="#1e1e1e" stroke-width="1"/>
<text x="381.1666666666667" y="646" font-size="8.2" text-anchor="middle" fill="#231f20" stroke="#231f20" stroke-width="0.2" >6</text>
<line x1="414.0" y1="632.5" x2="414.0" y2="635.5" stroke="#1e1e1e" stroke-width="1"/>
<text x="414.0" y="646" font-size="8.2" text-anchor="middle" fill="#231f20" stroke="#231f20" stroke-width="0.2" >9</text>
<line x1="446.83333333333337" y1="632.5" x2="446.83333333333337" y2="635.5" stroke="#1e1e1e" stroke-width="1"/>
<text x="446.83333333333337" y="646" font-size="8.2" text-anchor="middle" fill="#231f20" stroke="#231f20" stroke-width="0.2" >12</text>
<line x1="479.6666666666667" y1="632.5" x2="479.6666666666667" y2="635.5" stroke="#1e1e1e" stroke-width="1"/>
<text x="479.6666666666667" y="646" font-size="8.2" text-anchor="middle" fill="#231f20" stroke="#231f20" stroke-width="0.2" >15</text>
<line x1="512.5" y1="632.5" x2="512.5" y2="635.5" stroke="#1e1e1e" stroke-width="1"/>
<text x="512.5" y="646" font-size="8.2" text-anchor="middle" fill="#231f20" stroke="#231f20" stroke-width="0.2" >18</text>
<text transform="translate(414,659.6) scale(0.63,1)" x="0.259" y="0" font-size="10.2" text-anchor="middle" fill="#231f20" letter-spacing="0.518" stroke="#231f20" stroke-width="0.42">Months from start of therapy</text>
<text transform="translate(288.4,550.0) rotate(-90) scale(0.63,1)" x="0.413" y="0" font-size="9.5" text-anchor="middle" fill="#231f20" letter-spacing="0.826" stroke="#231f20" stroke-width="0.42">Event-free survival (%)</text>
<path d="M315.5 470.5H503" fill="none" stroke="#1f4f82" stroke-width="1.75" stroke-linejoin="miter"/>
<path d="M419.4 467.5V473.5M420.6 467.5V473.5M437.5 467.5V473.5M447.6 467.5V473.5M448.8 467.5V473.5M456.25 467.5V473.5M458.75 467.5V473.5M463.75 467.5V473.5M473.75 467.5V473.5M486.25 467.5V473.5M500 467.5V473.5" fill="none" stroke="#1f4f82" stroke-width="1.3"/>
<path d="M315.5 470.5H368.75V498H373.75V525.5H406.75V552H410.5V579.25H456.25" fill="none" stroke="#b0153b" stroke-width="1.75" stroke-linejoin="miter"/>
<path d="M413.25 576.25V582.25M453.75 576.25V582.25" fill="none" stroke="#b0153b" stroke-width="1.3"/>
<path d="M438.8 498.7H448.8M443.8 495.2V502.2" stroke="#1b4168" stroke-width="1.35"/>
<text x="452.5" y="501.5" font-size="7.8" text-anchor="start" fill="#231f20" stroke="#231f20" stroke-width="0.2" >ctDNA not detected</text>
<path d="M438.8 510.8H448.8M443.8 507.3V514.3" stroke="#921434" stroke-width="1.35"/>
<text x="452.5" y="513.6" font-size="7.8" text-anchor="start" fill="#231f20" stroke="#231f20" stroke-width="0.2" >ctDNA detected</text>
<text x="441.25" y="555.75" font-size="8.5" fill="#231f20" stroke="#231f20" stroke-width="0.2"><tspan font-style="italic">P</tspan> = .0015</text>
<text x="319.5" y="602.5" font-size="8.4" text-anchor="start" fill="#231f20" stroke="#231f20" stroke-width="0.2" textLength="51.6" lengthAdjust="spacingAndGlyphs">Number at risk</text>
<text x="324.5" y="614.75" font-size="8.3" text-anchor="middle" fill="#2a5585" stroke="#2a5585" stroke-width="0.05" >11</text>
<text x="348.3333333333333" y="614.75" font-size="8.3" text-anchor="middle" fill="#2a5585" stroke="#2a5585" stroke-width="0.05" >11</text>
<text x="381.1666666666667" y="614.75" font-size="8.3" text-anchor="middle" fill="#2a5585" stroke="#2a5585" stroke-width="0.05" >11</text>
<text x="414.0" y="614.75" font-size="8.3" text-anchor="middle" fill="#2a5585" stroke="#2a5585" stroke-width="0.05" >11</text>
<text x="446.83333333333337" y="614.75" font-size="8.3" text-anchor="middle" fill="#2a5585" stroke="#2a5585" stroke-width="0.05" >8</text>
<text x="479.6666666666667" y="614.75" font-size="8.3" text-anchor="middle" fill="#2a5585" stroke="#2a5585" stroke-width="0.05" >2</text>
<text x="512.5" y="614.75" font-size="8.3" text-anchor="middle" fill="#2a5585" stroke="#2a5585" stroke-width="0.05" >0</text>
<text x="324.5" y="627.25" font-size="8.3" text-anchor="middle" fill="#ad1f44" stroke="#ad1f44" stroke-width="0.05" >6</text>
<text x="348.3333333333333" y="627.25" font-size="8.3" text-anchor="middle" fill="#ad1f44" stroke="#ad1f44" stroke-width="0.05" >6</text>
<text x="381.1666666666667" y="627.25" font-size="8.3" text-anchor="middle" fill="#ad1f44" stroke="#ad1f44" stroke-width="0.05" >4</text>
<text x="414.0" y="627.25" font-size="8.3" text-anchor="middle" fill="#ad1f44" stroke="#ad1f44" stroke-width="0.05" >1</text>
<text x="446.83333333333337" y="627.25" font-size="8.3" text-anchor="middle" fill="#ad1f44" stroke="#ad1f44" stroke-width="0.05" >1</text>
<text x="479.6666666666667" y="627.25" font-size="8.3" text-anchor="middle" fill="#ad1f44" stroke="#ad1f44" stroke-width="0.05" >0</text>
<text x="512.5" y="627.25" font-size="8.3" text-anchor="middle" fill="#ad1f44" stroke="#ad1f44" stroke-width="0.05" >0</text>
</svg>
</body></html>
